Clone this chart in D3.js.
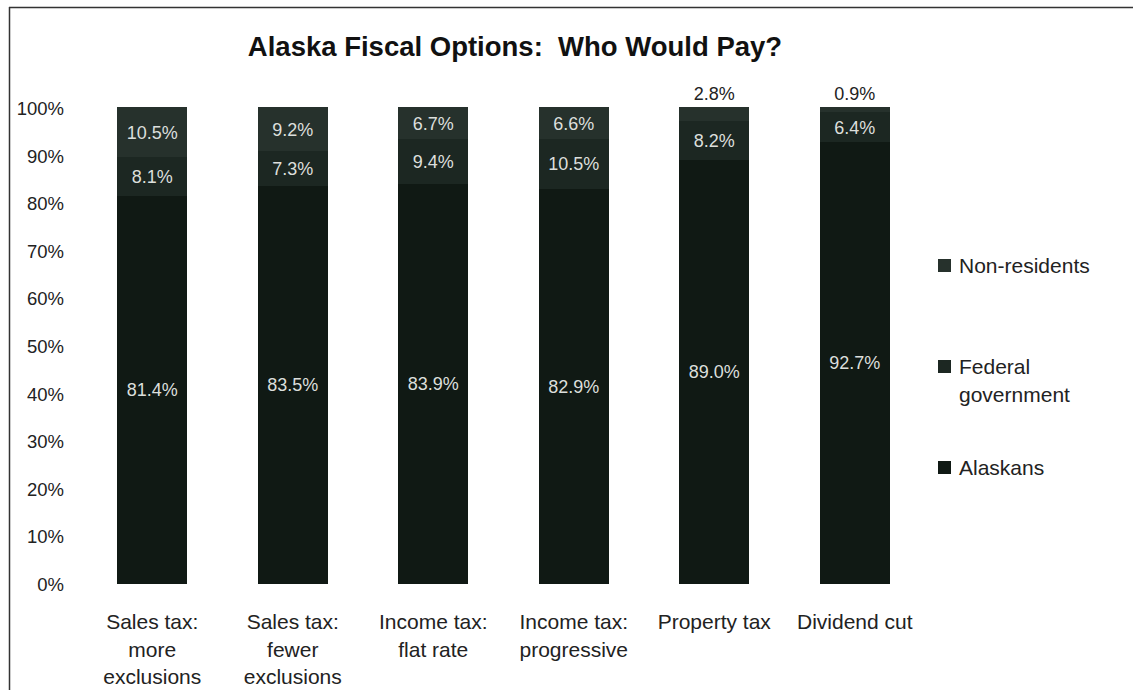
<!DOCTYPE html>
<html>
<head>
<meta charset="utf-8">
<script src="https://cdn.jsdelivr.net/npm/d3@7"></script>
<style>
  html, body { margin: 0; padding: 0; background: #ffffff; }
  svg { display: block; font-family: "Liberation Sans", Arial, sans-serif; }
</style>
</head>
<body>
<svg id="chart" width="1133" height="690"></svg>
<script>
// Categories (multi-line labels) and the share paid by each group, in percent
const categories = [
  ["Sales tax:", "more", "exclusions"],
  ["Sales tax:", "fewer", "exclusions"],
  ["Income tax:", "flat rate"],
  ["Income tax:", "progressive"],
  ["Property tax"],
  ["Dividend cut"]
];
const alaskans     = [81.4, 83.5, 83.9, 82.9, 89.0, 92.7];
const federalGov   = [8.1, 7.3, 9.4, 10.5, 8.2, 6.4];
const nonResidents = [10.5, 9.2, 6.7, 6.6, 2.8, 0.9];
const yTicks = [0, 10, 20, 30, 40, 50, 60, 70, 80, 90, 100];

const seriesNames  = ["Alaskans", "Federal government", "Non-residents"];
const seriesColors = ["#101914", "#1c2722", "#26312c"];
const seriesLabelLines = [["Alaskans"], ["Federal", "government"], ["Non-residents"]];

const svg = d3.select("#chart");

// Outer frame (top and left edges visible)
svg.append("line").attr("x1", 9).attr("x2", 1133).attr("y1", 7.5).attr("y2", 7.5)
  .attr("stroke", "#333").attr("stroke-width", 1.5);
svg.append("line").attr("x1", 9.5).attr("x2", 9.5).attr("y1", 7).attr("y2", 690)
  .attr("stroke", "#333").attr("stroke-width", 1.5);

// Title
svg.append("text")
  .attr("x", 515).attr("y", 56)
  .attr("text-anchor", "middle")
  .attr("font-size", 27.5).attr("font-weight", "bold").attr("fill", "#111")
  .attr("xml:space", "preserve")
  .text("Alaska Fiscal Options:  Who Would Pay?");

// Scales
const x = d3.scaleBand()
  .domain(d3.range(categories.length))
  .range([82, 925])
  .paddingInner(0.5).paddingOuter(0.25);
const y = d3.scaleLinear().domain([0, 100]).range([583, 107]);

// Y axis tick labels
const yAxis = d3.axisLeft(y).tickValues(yTicks).tickFormat(d => d + "%").tickSize(0).tickPadding(0);
const gy = svg.append("g").attr("transform", "translate(64,0)").call(yAxis);
gy.select(".domain").remove();
gy.selectAll("text").attr("font-size", 18.5).attr("fill", "#222").attr("dy", "0.4em")
  .attr("font-family", "Liberation Sans, Arial, sans-serif");

// Stack the three groups
const rows = categories.map((c, i) => ({
  i, "Alaskans": alaskans[i], "Federal government": federalGov[i], "Non-residents": nonResidents[i]
}));
const stacked = d3.stack().keys(seriesNames)(rows);

const layers = svg.append("g").attr("shape-rendering", "crispEdges").selectAll("g")
  .data(stacked).join("g")
  .attr("fill", (d, k) => seriesColors[k]);

layers.selectAll("rect")
  .data(d => d).join("rect")
  .attr("x", d => x(d.data.i))
  .attr("width", x.bandwidth())
  .attr("y", d => y(d[1]))
  .attr("height", d => y(d[0]) - y(d[1]) + 0.5);

// Value labels: inside the segment, or above the bar when the segment is too thin
const labels = svg.append("g").attr("font-size", 18);
stacked.forEach((layer, k) => {
  layer.forEach(d => {
    const v = d[1] - d[0];
    const thin = v < 4;
    const cx = x(d.data.i) + x.bandwidth() / 2;
    const cy = thin ? y(d[1]) - 7 : (y(d[0]) + y(d[1])) / 2 + 7;
    labels.append("text")
      .attr("x", cx).attr("y", cy)
      .attr("text-anchor", "middle")
      .attr("fill", thin ? "#222" : "#dcdfdc")
      .text(v.toFixed(1) + "%");
  });
});

// Category labels
const xl = svg.append("g").attr("font-size", 21).attr("fill", "#222");
categories.forEach((lines, i) => {
  const t = xl.append("text")
    .attr("x", x(i) + x.bandwidth() / 2)
    .attr("y", 629)
    .attr("text-anchor", "middle");
  lines.forEach((ln, j) => {
    t.append("tspan").attr("x", x(i) + x.bandwidth() / 2).attr("dy", j === 0 ? 0 : 27.5).text(ln);
  });
});

// Legend (top-down: Non-residents, Federal government, Alaskans)
const legendRows = [2, 1, 0];
const legendBase = [273, 374, 475];
const lg = svg.append("g").attr("font-size", 21).attr("fill", "#222");
legendRows.forEach((k, r) => {
  lg.append("rect")
    .attr("x", 938).attr("y", legendBase[r] - 14)
    .attr("width", 13).attr("height", 13)
    .attr("fill", seriesColors[k]);
  const t = lg.append("text").attr("x", 959).attr("y", legendBase[r]);
  seriesLabelLines[k].forEach((ln, j) => {
    t.append("tspan").attr("x", 959).attr("dy", j === 0 ? 0 : 28).text(ln);
  });
});
</script>
</body>
</html>
